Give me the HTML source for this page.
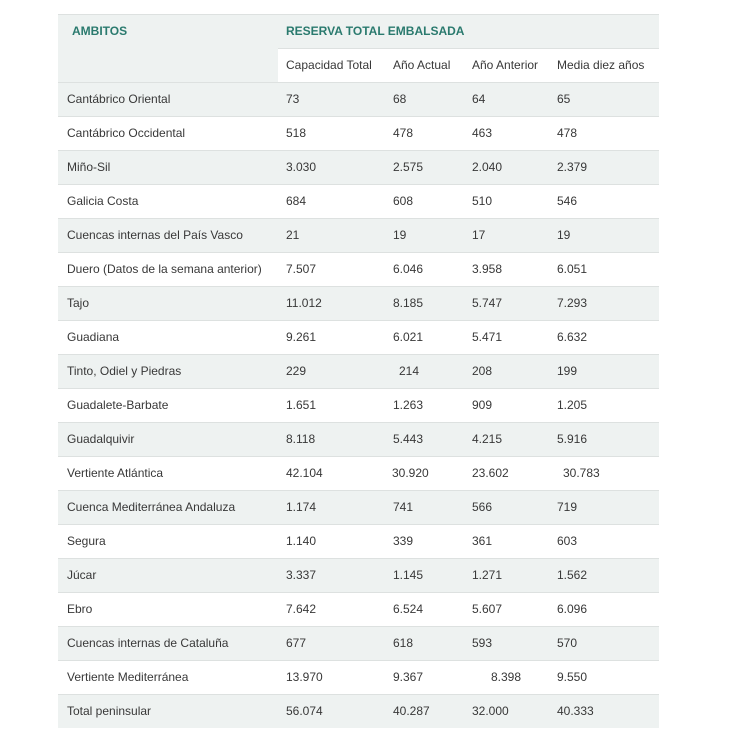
<!DOCTYPE html>
<html><head><meta charset="utf-8">
<style>
html,body{margin:0;padding:0;background:#fff;width:730px;height:746px;overflow:hidden;}
body{position:relative;font-family:"Liberation Sans",Arial,sans-serif;font-size:12px;color:#383838;}
.r{position:absolute;left:58px;width:601px;height:34px;border-top:1px solid #dde1e0;box-sizing:border-box;}
.g{background:#eef2f1;}
.t{position:absolute;top:0;line-height:33px;white-space:nowrap;}
.h{color:#2a7a6e;font-weight:bold;}
</style></head><body>
<div class="r g" style="top:14px;">
  <span class="t h" style="left:14px;">AMBITOS</span>
  <span class="t h" style="left:228px;">RESERVA TOTAL EMBALSADA</span>
</div>
<div style="position:absolute;left:58px;top:48px;width:220px;height:34px;background:#eef2f1;"></div>
<div style="position:absolute;left:278px;top:48px;width:381px;height:34px;background:#fff;border-top:1px solid #dde1e0;box-sizing:border-box;">
  <span class="t" style="left:8px;">Capacidad Total</span>
  <span class="t" style="left:115px;">Año Actual</span>
  <span class="t" style="left:194px;">Año Anterior</span>
  <span class="t" style="left:279px;">Media diez años</span>
</div>

<div class="r g" style="top:82px;"><span class="t" style="left:9px">Cantábrico Oriental</span><span class="t" style="left:228px">73</span><span class="t" style="left:335px">68</span><span class="t" style="left:414px">64</span><span class="t" style="left:499px">65</span></div>
<div class="r" style="top:116px;"><span class="t" style="left:9px">Cantábrico Occidental</span><span class="t" style="left:228px">518</span><span class="t" style="left:335px">478</span><span class="t" style="left:414px">463</span><span class="t" style="left:499px">478</span></div>
<div class="r g" style="top:150px;"><span class="t" style="left:9px">Miño-Sil</span><span class="t" style="left:228px">3.030</span><span class="t" style="left:335px">2.575</span><span class="t" style="left:414px">2.040</span><span class="t" style="left:499px">2.379</span></div>
<div class="r" style="top:184px;"><span class="t" style="left:9px">Galicia Costa</span><span class="t" style="left:228px">684</span><span class="t" style="left:335px">608</span><span class="t" style="left:414px">510</span><span class="t" style="left:499px">546</span></div>
<div class="r g" style="top:218px;"><span class="t" style="left:9px">Cuencas internas del País Vasco</span><span class="t" style="left:228px">21</span><span class="t" style="left:335px">19</span><span class="t" style="left:414px">17</span><span class="t" style="left:499px">19</span></div>
<div class="r" style="top:252px;"><span class="t" style="left:9px">Duero (Datos de la semana anterior)</span><span class="t" style="left:228px">7.507</span><span class="t" style="left:335px">6.046</span><span class="t" style="left:414px">3.958</span><span class="t" style="left:499px">6.051</span></div>
<div class="r g" style="top:286px;"><span class="t" style="left:9px">Tajo</span><span class="t" style="left:228px">11.012</span><span class="t" style="left:335px">8.185</span><span class="t" style="left:414px">5.747</span><span class="t" style="left:499px">7.293</span></div>
<div class="r" style="top:320px;"><span class="t" style="left:9px">Guadiana</span><span class="t" style="left:228px">9.261</span><span class="t" style="left:335px">6.021</span><span class="t" style="left:414px">5.471</span><span class="t" style="left:499px">6.632</span></div>
<div class="r g" style="top:354px;"><span class="t" style="left:9px">Tinto, Odiel y Piedras</span><span class="t" style="left:228px">229</span><span class="t" style="left:341px">214</span><span class="t" style="left:414px">208</span><span class="t" style="left:499px">199</span></div>
<div class="r" style="top:388px;"><span class="t" style="left:9px">Guadalete-Barbate</span><span class="t" style="left:228px">1.651</span><span class="t" style="left:335px">1.263</span><span class="t" style="left:414px">909</span><span class="t" style="left:499px">1.205</span></div>
<div class="r g" style="top:422px;"><span class="t" style="left:9px">Guadalquivir</span><span class="t" style="left:228px">8.118</span><span class="t" style="left:335px">5.443</span><span class="t" style="left:414px">4.215</span><span class="t" style="left:499px">5.916</span></div>
<div class="r" style="top:456px;"><span class="t" style="left:9px">Vertiente Atlántica</span><span class="t" style="left:228px">42.104</span><span class="t" style="left:334px">30.920</span><span class="t" style="left:414px">23.602</span><span class="t" style="left:505px">30.783</span></div>
<div class="r g" style="top:490px;"><span class="t" style="left:9px">Cuenca Mediterránea Andaluza</span><span class="t" style="left:228px">1.174</span><span class="t" style="left:335px">741</span><span class="t" style="left:414px">566</span><span class="t" style="left:499px">719</span></div>
<div class="r" style="top:524px;"><span class="t" style="left:9px">Segura</span><span class="t" style="left:228px">1.140</span><span class="t" style="left:335px">339</span><span class="t" style="left:414px">361</span><span class="t" style="left:499px">603</span></div>
<div class="r g" style="top:558px;"><span class="t" style="left:9px">Júcar</span><span class="t" style="left:228px">3.337</span><span class="t" style="left:335px">1.145</span><span class="t" style="left:414px">1.271</span><span class="t" style="left:499px">1.562</span></div>
<div class="r" style="top:592px;"><span class="t" style="left:9px">Ebro</span><span class="t" style="left:228px">7.642</span><span class="t" style="left:335px">6.524</span><span class="t" style="left:414px">5.607</span><span class="t" style="left:499px">6.096</span></div>
<div class="r g" style="top:626px;"><span class="t" style="left:9px">Cuencas internas de Cataluña</span><span class="t" style="left:228px">677</span><span class="t" style="left:335px">618</span><span class="t" style="left:414px">593</span><span class="t" style="left:499px">570</span></div>
<div class="r" style="top:660px;"><span class="t" style="left:9px">Vertiente Mediterránea</span><span class="t" style="left:228px">13.970</span><span class="t" style="left:335px">9.367</span><span class="t" style="left:433px">8.398</span><span class="t" style="left:499px">9.550</span></div>
<div class="r g" style="top:694px;"><span class="t" style="left:9px">Total peninsular</span><span class="t" style="left:228px">56.074</span><span class="t" style="left:335px">40.287</span><span class="t" style="left:414px">32.000</span><span class="t" style="left:499px">40.333</span></div>
</body></html>
